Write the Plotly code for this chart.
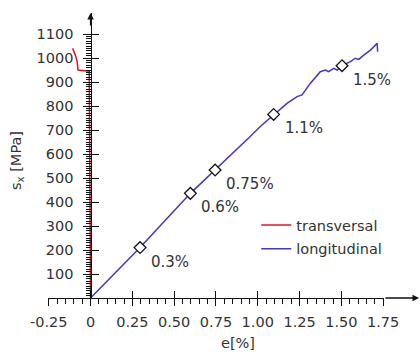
import numpy as np
import plotly.graph_objects as go

# ---- data ----
trans_e = [0.0, -0.004, -0.007, -0.008, -0.075, -0.08, -0.09, -0.107]
trans_s = [0, 300, 700, 945, 950, 985, 1010, 1040]

long_e = [0.0, 0.296, 0.597, 0.745, 0.85, 0.95, 1.02, 1.095, 1.175, 1.235, 1.265,
          1.314, 1.374, 1.404, 1.424, 1.454, 1.474, 1.504, 1.554, 1.584, 1.604,
          1.634, 1.674, 1.714, 1.717]
long_s = [0, 210, 436, 533, 605, 670, 718, 765, 811, 839, 846,
          894, 943, 950, 943, 957, 950, 968, 985, 999, 994,
          1012, 1033, 1061, 1026]

mark_e = [0.296, 0.597, 0.745, 1.095, 1.504]
mark_s = [210, 436, 533, 765, 968]
mark_lbl = ["0.3%", "0.6%", "0.75%", "1.1%", "1.5%"]

x_ticks = [-0.25, 0, 0.25, 0.5, 0.75, 1.0, 1.25, 1.5, 1.75]
x_ticktext = ["-0.25", "0", "0.25", "0.50", "0.75", "1.00", "1.25", "1.50", "1.75"]
y_ticks = [100, 200, 300, 400, 500, 600, 700, 800, 900, 1000, 1100]
y_ticktext = [str(v) for v in y_ticks]

FONT = "DejaVu Sans"
W, H = 420, 352
L, T, B = 48, 13, 54
XR = [-0.2545, 1.755]
YR = [0, 1187.5]
PXU = 167.0                       # pixels per x unit
PW = (XR[1] - XR[0]) * PXU        # plot width in px
PH = H - T - B
R = W - L - PW
ypos = (0 - XR[0]) / (XR[1] - XR[0])

y_minor = [int(v) for v in np.arange(0, 1101, 10)]

fig = go.Figure()
fig.add_trace(go.Scatter(x=trans_e, y=trans_s, mode="lines", name="transversal",
                         line=dict(color="#e3112c", width=1.5), legendgroup="a"))
fig.add_trace(go.Scatter(x=long_e, y=long_s, mode="lines", name="longitudinal",
                         line=dict(color="#4437c0", width=1.5), legendgroup="b"))
fig.add_trace(go.Scatter(x=mark_e, y=mark_s, mode="markers", showlegend=False,
                         marker=dict(symbol="diamond", size=9, color="white",
                                     line=dict(color="#111", width=1.3))))
# invisible carriers for the overlay tick axes
for xa, ya in [("x2", "y2"), ("x", "y3")]:
    fig.add_trace(go.Scatter(x=long_e, y=long_s, xaxis=xa, yaxis=ya, mode="lines",
                             opacity=0, showlegend=False, hoverinfo="skip"))

for e, s, t in zip(mark_e, mark_s, mark_lbl):
    fig.add_annotation(x=e, y=s, text=t, showarrow=False, xanchor="left",
                       yanchor="middle", xshift=9, yshift=-14,
                       font=dict(family=FONT, size=15, color="#333"))

axcol = "#111"
tickfont = dict(family=FONT, size=14.5, color="#333")
common = dict(showgrid=False, zeroline=False, automargin=False)
fig.update_layout(
    width=W, height=H, margin=dict(l=L, r=R, t=T, b=B, autoexpand=False),
    paper_bgcolor="white", plot_bgcolor="white",
    xaxis=dict(range=XR, showline=True, linecolor=axcol, linewidth=1.3,
               tickmode="array", tickvals=x_ticks, ticktext=x_ticktext,
               ticks="outside", ticklen=7, tickwidth=1.3, tickcolor=axcol,
               tickfont=tickfont, ticklabelstandoff=3,
               minor=dict(ticks="outside", tick0=0, dtick=0.05, ticklen=5,
                          tickwidth=1, tickcolor=axcol, showgrid=False),
               **common),
    yaxis=dict(range=YR, showline=True, linecolor=axcol, linewidth=1.3,
               anchor="free", position=ypos, tickmode="array", tickvals=y_ticks,
               ticktext=y_ticktext, ticks="outside", ticklen=7, tickwidth=1.3,
               tickcolor=axcol, tickfont=tickfont, ticklabelstandoff=7, **common),
    # inner half of both axes' major ticks
    xaxis2=dict(range=XR, overlaying="x", anchor="y2", side="bottom",
                showline=False, tickmode="array", tickvals=x_ticks, ticks="inside",
                ticklen=7, tickwidth=1.3, tickcolor=axcol, showticklabels=False,
                **common),
    yaxis2=dict(range=YR, overlaying="y", anchor="free", position=ypos,
                showline=False, tickmode="array", tickvals=y_ticks, ticks="inside",
                ticklen=7, tickwidth=1.3, tickcolor=axcol, showticklabels=False,
                **common),
    # y minor ticks
    yaxis3=dict(range=YR, overlaying="y", anchor="free", position=ypos,
                showline=False, tickmode="array", tickvals=y_minor, ticks="outside",
                ticklen=5, tickwidth=1, tickcolor=axcol, showticklabels=False,
                **common),
    legend=dict(x=(256 - L) / PW, y=(298 - 209) / PH,
                xanchor="left", yanchor="top", bgcolor="rgba(0,0,0,0)",
                font=dict(family=FONT, size=14.5, color="#333"),
                traceorder="grouped", tracegroupgap=2),
    showlegend=True,
)

# axis arrows (x axis line continues past the last tick to the arrow head)
fig.add_annotation(xref="paper", yref="paper", x=(419 - L) / PW, y=0,
                   ax=-(419 - L - PW), ay=0, text="", showarrow=True,
                   arrowhead=2, arrowsize=1, arrowwidth=1.3, arrowcolor=axcol)
fig.add_annotation(xref="paper", yref="paper", x=ypos, y=1, ax=0, ay=14, text="",
                   showarrow=True, arrowhead=2, arrowsize=1, arrowwidth=1.3,
                   arrowcolor=axcol)

# axis titles
fig.add_annotation(xref="paper", yref="paper", x=(238 - L) / PW,
                   y=-(343 - 298) / PH, text="e[%]", showarrow=False,
                   xanchor="center", yanchor="middle",
                   font=dict(family=FONT, size=14.5, color="#333"))
fig.add_annotation(xref="paper", yref="paper", x=(17 - L) / PW,
                   y=(298 - 160) / PH, text="s<sub>x</sub> [MPa]",
                   textangle=-90, showarrow=False, xanchor="center",
                   yanchor="middle",
                   font=dict(family=FONT, size=14.5, color="#333"))

fig.write_html("out.html", config={"displayModeBar": False},
               post_script="document.body.style.margin='0';"
                           "document.body.style.overflow='hidden';")
